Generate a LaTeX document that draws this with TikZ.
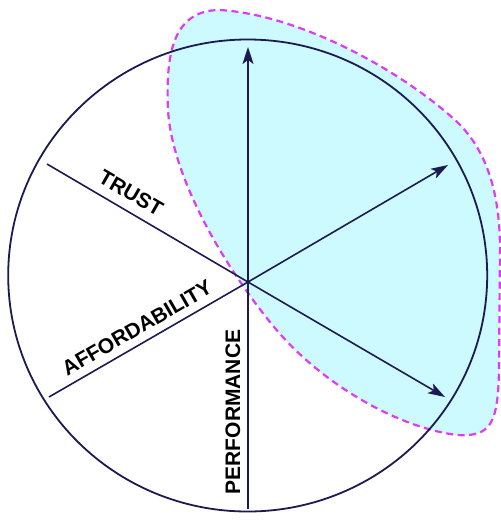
\documentclass[tikz,border=0pt]{standalone}
\usepackage{fontspec}
\setmainfont{Liberation Sans}
\usetikzlibrary{arrows.meta}

\definecolor{navy}{HTML}{1C1A4F}
\definecolor{blobfill}{HTML}{CCFAFF}
\definecolor{blobline}{HTML}{DD3BF7}

\begin{document}
\begin{tikzpicture}[
  x=1pt, y=-1pt,
  every node/.style={font=\fontsize{21}{25}\selectfont\bfseries, text=black},
  rim/.style={draw=navy, line width=1.8pt},
  spoke/.style={draw=navy, line width=1.6pt},
  arrow/.style={spoke, -{Stealth[length=17pt, width=11pt, inset=4pt]}},
  blob/.style={fill=blobfill, draw=blobline, line width=2.2pt, dash pattern=on 7pt off 4.5pt}
]
\useasboundingbox (0,0) rectangle (501,520);

% Highlighted region
\draw[blob] (220,10) .. controls (300,15) and (400,70) .. (455,120)
  .. controls (490,152) and (500,200) .. (500,250)
  -- (499,370) .. controls (498,425) and (490,437) .. (457,435)
  .. controls (400,428) and (320,385) .. (270,322)
  .. controls (220,260) and (172,175) .. (168,110)
  .. controls (166,60) and (170,10) .. cycle;

% Outer circle
\draw[rim] (247.7,275.5) ellipse [x radius=239.5pt, y radius=236pt];

% Hub and spoke ends
\coordinate (hub) at (248,282);
\coordinate (up) at (248,47);
\coordinate (upright) at (448,165);
\coordinate (downright) at (445,397);
\coordinate (trust) at (47,164);
\coordinate (afford) at (49,397);
\coordinate (perf) at (248,509);

% Spokes
\draw[arrow] (hub) -- (up);
\draw[arrow] (hub) -- (upright);
\draw[arrow] (hub) -- (downright);
\draw[spoke] (hub) -- (trust);
\draw[spoke] (hub) -- (afford);
\draw[spoke] (hub) -- (perf);

% Labels
\node[rotate=-30] (trustlbl) at (131,193) {TRUST};
\node[rotate=30] (affordlbl) at (137,328) {AFFORDABILITY};
\node[rotate=90] (perflbl) at (233,412) {PERFORMANCE};

\end{tikzpicture}
\end{document}
